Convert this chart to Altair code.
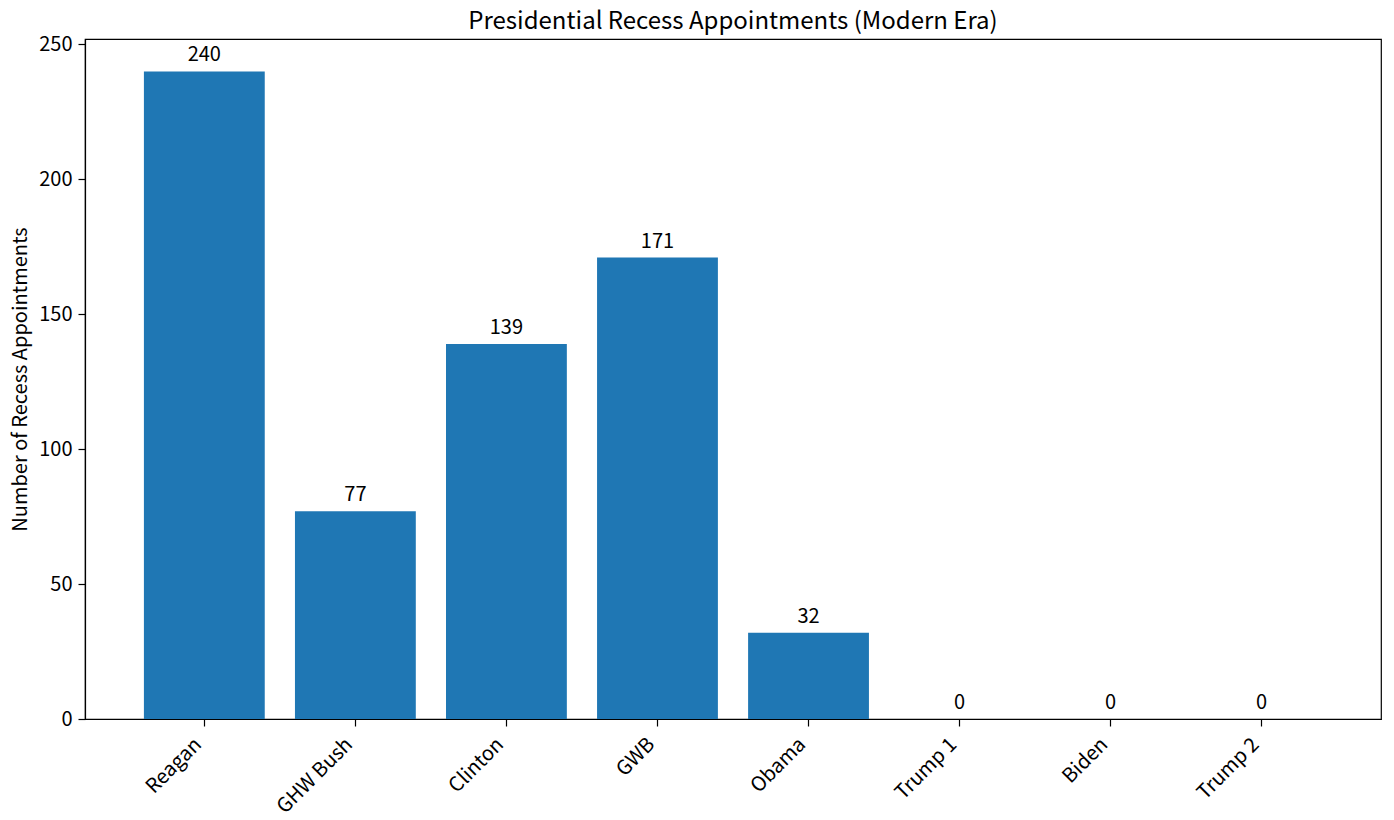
import altair as alt
import pandas as pd

presidents = ["Reagan", "GHW Bush", "Clinton", "GWB", "Obama", "Trump 1", "Biden", "Trump 2"]
appointments = [240, 77, 139, 171, 32, 0, 0, 0]

df = pd.DataFrame({"president": presidents, "count": appointments})

FONT = "Noto Sans CJK JP"

x = alt.X("president:N", sort=presidents, title=None,
          scale=alt.Scale(paddingInner=0.2, paddingOuter=0.39),
          axis=alt.Axis(labelAngle=-45, labelAlign="right", labelBaseline="top",
                        labelFontSize=20, labelColor="black", labelFont=FONT,
                        tickColor="black", domainColor="black", tickSize=7,
                        tickWidth=1.2, domainWidth=1.2,
                        labelPadding=8, labelOffset=-13))
y = alt.Y("count:Q", title="Number of Recess Appointments",
          scale=alt.Scale(domain=[0, 252], nice=False),
          axis=alt.Axis(values=[0, 50, 100, 150, 200, 250], grid=False,
                        labelFontSize=20, labelColor="black", labelFont=FONT,
                        titleFontSize=20, titleFont=FONT, titleFontWeight="normal",
                        titleColor="black", tickColor="black", domainColor="black",
                        tickSize=7, tickWidth=1.2, domainWidth=1.2,
                        labelPadding=6, titlePadding=8))

bars = alt.Chart(df).mark_bar(color="#1f77b4").encode(x=x, y=y)
labels = alt.Chart(df).mark_text(baseline="alphabetic", dy=-10, fontSize=20, font=FONT,
                                 color="black").encode(x=x, y=y, text="count:Q")

chart = alt.layer(bars, labels).properties(
    width=1296, height=680,
    title=alt.TitleParams("Presidential Recess Appointments (Modern Era)",
                          fontSize=24, font=FONT, fontWeight="normal", color="black",
                          offset=0),
    autosize=alt.AutoSizeParams(type="none"),
    padding={"left": 77, "top": 31, "right": 5, "bottom": 100},
).configure(background="white").configure_view(stroke="black", strokeWidth=1.2)

chart.save("out.html", embed_options={"renderer": "svg", "actions": False})
